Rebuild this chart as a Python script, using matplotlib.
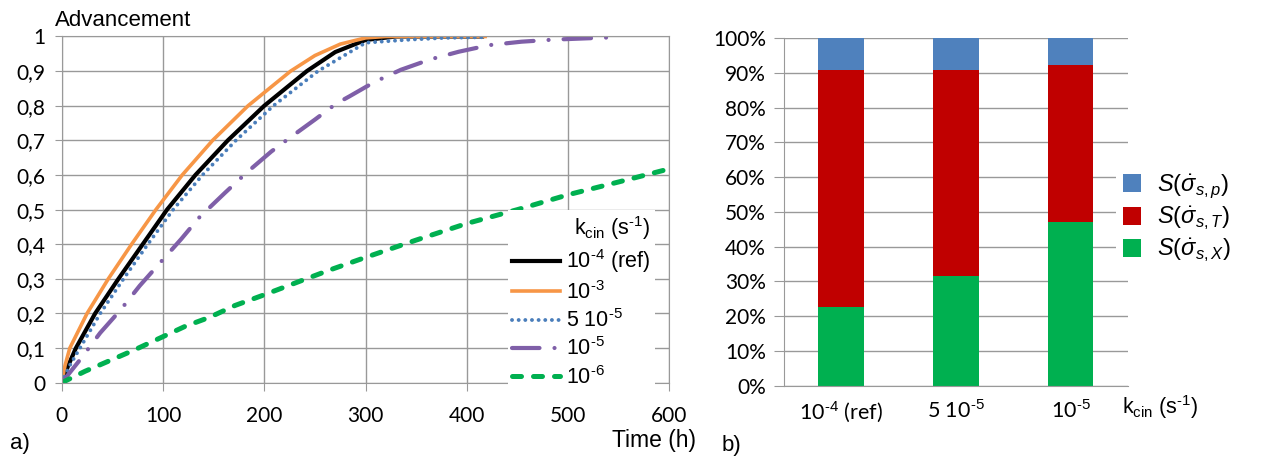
import matplotlib
matplotlib.use("Agg")
import matplotlib.pyplot as plt
from matplotlib.ticker import FuncFormatter

plt.rcParams["font.family"] = ["Liberation Sans", "DejaVu Sans"]
plt.rcParams["mathtext.fontset"] = "custom"
plt.rcParams["mathtext.rm"] = "Liberation Sans"
plt.rcParams["mathtext.it"] = "Liberation Sans:italic"

# --- a) advancement curves (values read off the picture) ---
t_ref = [0, 6.5, 14, 33, 56, 80, 104, 132, 164, 200, 242, 270, 300, 330, 415]
x_ref = [0, 0.05, 0.1, 0.2, 0.3, 0.4, 0.5, 0.6, 0.7, 0.8, 0.9, 0.955, 0.99, 1, 1]

t_1e3 = [0, 3.3, 8, 25, 46, 69, 93, 119, 149, 184, 226, 250, 275, 300, 320, 418]
x_1e3 = [0, 0.05, 0.1, 0.2, 0.3, 0.4, 0.5, 0.6, 0.7, 0.8, 0.9, 0.945, 0.978, 0.996, 1, 1]

t_5e5 = [0, 8, 18, 38, 61, 85, 110, 139, 172, 209, 253, 300, 344, 378, 416]
x_5e5 = [0, 0.05, 0.1, 0.2, 0.3, 0.4, 0.5, 0.6, 0.7, 0.8, 0.9, 0.982, 0.991, 0.996, 0.998]

t_1e5 = [0, 18, 38, 58, 77, 97, 118, 136, 161, 183, 207, 225, 250, 271, 284, 309,
         335, 364, 392, 422, 454, 486, 539]
x_1e5 = [0, 0.066, 0.144, 0.21, 0.28, 0.346, 0.415, 0.478, 0.548, 0.608, 0.668, 0.707,
         0.76, 0.806, 0.827, 0.869, 0.904, 0.934, 0.956, 0.975, 0.985, 0.991, 0.997]

t_1e6 = [0, 23, 46, 72, 97, 122, 146, 171, 200, 235, 265, 300, 350, 400, 450, 500, 550, 595]
x_1e6 = [0, 0.033, 0.062, 0.095, 0.129, 0.163, 0.189, 0.223, 0.254, 0.293, 0.326, 0.362,
         0.412, 0.46, 0.50, 0.543, 0.58, 0.614]

# --- b) contributions ---
cases = ["10$^{\\text{-}4}$ (ref)", "5 10$^{\\text{-}5}$", "10$^{\\text{-}5}$"]
share_X = [22.6, 31.6, 47.1]
share_T = [68.3, 59.3, 45.1]
share_p = [9.1, 9.1, 7.8]

grid_col = "#999999"

fig = plt.figure(figsize=(12.83, 4.59), dpi=100)

# left panel
ax1 = fig.add_axes([0.0481, 0.1662, 0.4737, 0.7543])
ax1.plot(t_ref, x_ref, color="black", lw=3.0, label="10$^{\\text{-}4}$ (ref)")
ax1.plot(t_1e3, x_1e3, color="#F79646", lw=2.6, label="10$^{\\text{-}3}$")
ax1.plot(t_5e5, x_5e5, color="#4A7EBB", lw=2.8, linestyle=(0, (0.01, 1.7)),
         dash_capstyle="round", label="5 10$^{\\text{-}5}$")
ax1.plot(t_1e5, x_1e5, color="#7F5FA8", lw=3.0, linestyle=(0, (6.6, 3.6, 0.01, 3.6)),
         dash_capstyle="round", label="10$^{\\text{-}5}$")
ax1.plot(t_1e6, x_1e6, color="#00B050", lw=3.6, linestyle=(0, (1.8, 2.4)),
         dash_capstyle="round", label="10$^{\\text{-}6}$")

ax1.set_xlim(0, 600)
ax1.set_ylim(0, 1)
ax1.set_xticks(range(0, 601, 100))
ax1.set_yticks([i / 10 for i in range(11)])
ax1.yaxis.set_major_formatter(FuncFormatter(lambda v, p: ("%g" % round(v, 1)).replace(".", ",")))
ax1.grid(True, color=grid_col, lw=1.0)
ax1.set_axisbelow(True)
for s in ax1.spines.values():
    s.set_color(grid_col)
ax1.tick_params(axis="x", colors=grid_col, length=6, pad=11, labelsize=15, labelcolor="black")
ax1.tick_params(axis="y", colors=grid_col, length=5, pad=7, labelsize=15, labelcolor="black")
for lab in ax1.get_xticklabels() + ax1.get_yticklabels():
    lab.set_family("Lato")

leg = ax1.legend(loc="upper left", bbox_to_anchor=(508 / 1283, 1 - 210 / 459),
                 bbox_transform=fig.transFigure, title="k$_{\\rm cin}$ (s$^{\\text{-}1}$)",
                 fontsize=15.5, title_fontsize=15.5, frameon=True, facecolor="white",
                 edgecolor="none", framealpha=1, fancybox=False, borderpad=0.2,
                 borderaxespad=0, handlelength=2.2, handletextpad=0.3,
                 labelspacing=0.25, alignment="right")

fig.text(55 / 1283, 1 - 20 / 459, "Advancement", fontsize=16, va="center", ha="left")
fig.text(696 / 1283, 1 - 441 / 459, "Time (h)", fontsize=16.5, va="center", ha="right")
fig.text(10 / 1283, 1 - 443 / 459, "a)", fontsize=16, va="center", ha="left")

# right panel
ax2 = fig.add_axes([0.611, 0.1597, 0.2681, 0.7575])
pos = range(len(cases))
b_X = ax2.bar(pos, share_X, width=0.4, color="#00B050")
bot = [a for a in share_X]
b_T = ax2.bar(pos, share_T, width=0.4, bottom=bot, color="#C00000")
bot = [a + b for a, b in zip(share_X, share_T)]
b_p = ax2.bar(pos, share_p, width=0.4, bottom=bot, color="#4F81BD")

ax2.set_xlim(-0.5, 2.5)
ax2.set_ylim(0, 100)
ax2.set_yticks(range(0, 101, 10))
ax2.yaxis.set_major_formatter(FuncFormatter(lambda v, p: "%d%%" % v))
ax2.set_xticks(list(pos))
ax2.set_xticklabels(cases)
ax2.yaxis.grid(True, color=grid_col, lw=1.0)
ax2.set_axisbelow(True)
ax2.spines["top"].set_visible(False)
ax2.spines["right"].set_visible(False)
ax2.spines["left"].set_color(grid_col)
ax2.spines["bottom"].set_color(grid_col)
ax2.tick_params(axis="y", colors=grid_col, length=7, pad=6, labelsize=15, labelcolor="black")
ax2.tick_params(axis="x", length=0, pad=10, labelsize=15.5)
for lab in ax2.get_yticklabels() + ax2.get_xticklabels():
    lab.set_family("Lato")

ax2.legend([b_p, b_T, b_X],
           ["$S(\\dot{\\sigma}_{s,p})$", "$S(\\dot{\\sigma}_{s,T})$", "$S(\\dot{\\sigma}_{s,X})$"],
           loc="upper left", bbox_to_anchor=(1116 / 1283, 1 - 165 / 459),
           bbox_transform=fig.transFigure, fontsize=17, frameon=True, facecolor="white",
           edgecolor="none", framealpha=1, fancybox=False, borderpad=0.3,
           borderaxespad=0, handlelength=0.75, handleheight=0.75, handletextpad=0.7,
           labelspacing=0.2)

fig.text(1122 / 1283, 1 - 407 / 459, "k$_{\\rm cin}$ (s$^{\\text{-}1}$)", fontsize=15.5,
         va="center", ha="left")
fig.text(722 / 1283, 1 - 445 / 459, "b)", fontsize=16, va="center", ha="left")

fig.savefig("out.png", dpi=100)
